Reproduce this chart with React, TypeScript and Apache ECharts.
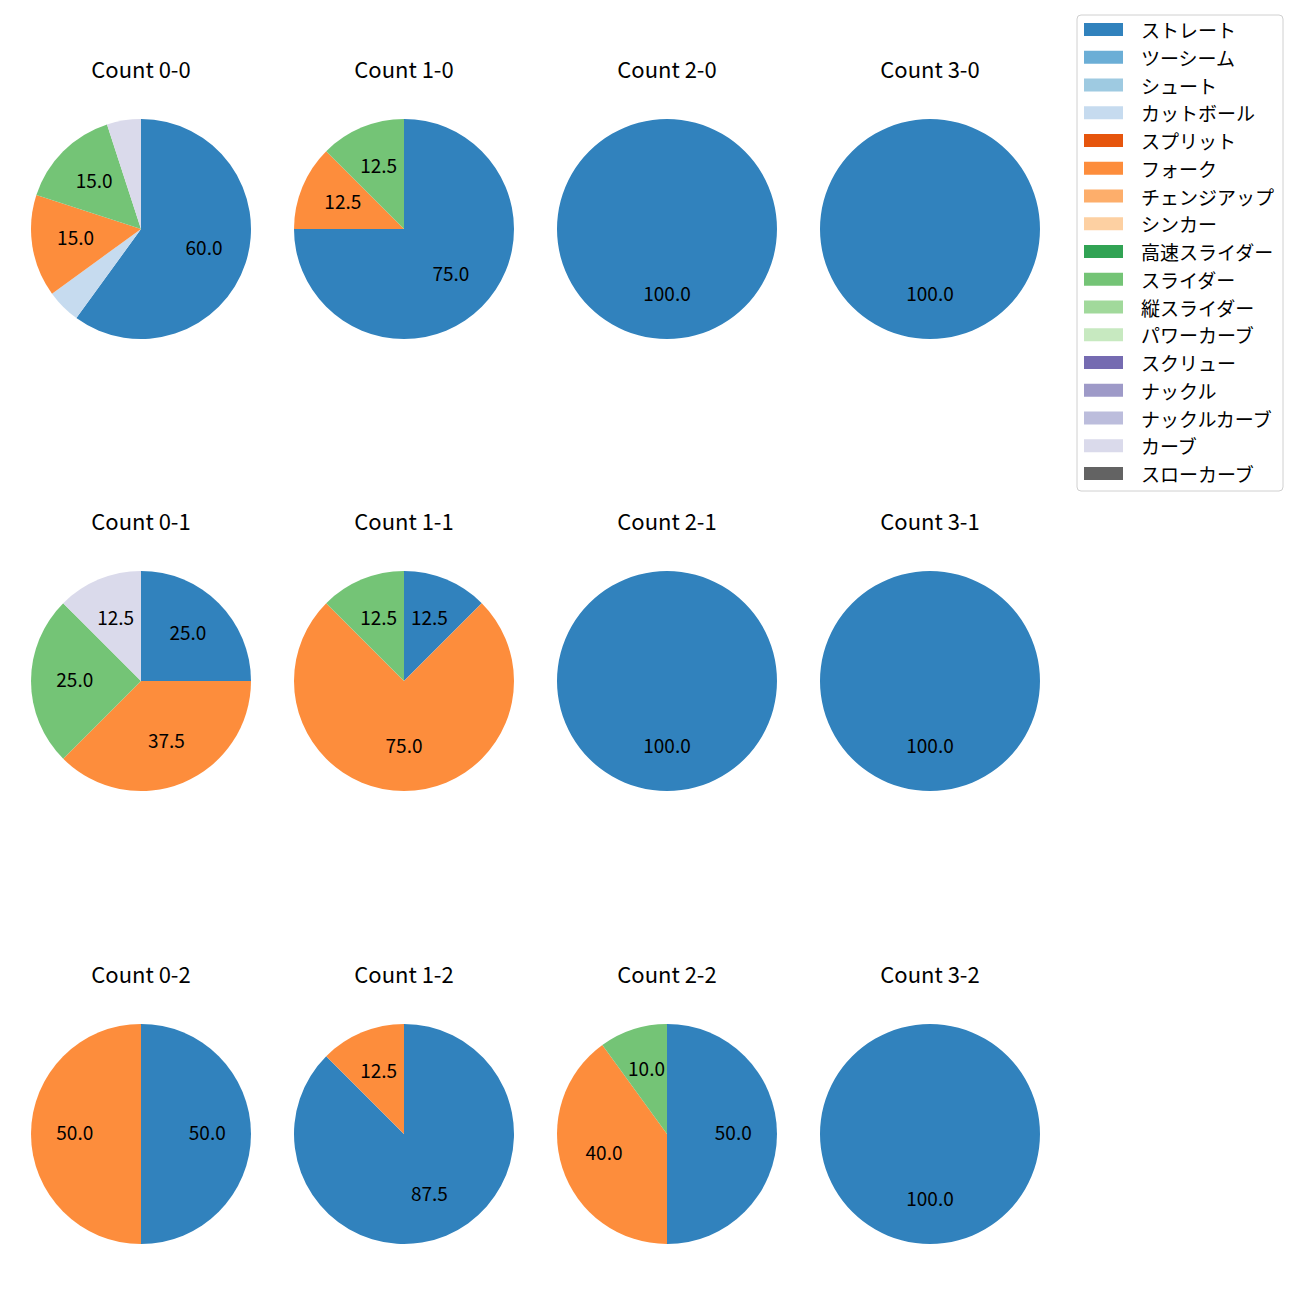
import React, { useEffect, useRef } from "react";
import * as echarts from "echarts";

const pitchTypes = [
  "ストレート", "ツーシーム", "シュート", "カットボール", "スプリット", "フォーク",
  "チェンジアップ", "シンカー", "高速スライダー", "スライダー", "縦スライダー",
  "パワーカーブ", "スクリュー", "ナックル", "ナックルカーブ", "カーブ", "スローカーブ",
];
const pitchColors = [
  "#3182bd", "#6baed6", "#9ecae1", "#c6dbef", "#e6550d", "#fd8d3c", "#fdae6b", "#fdd0a2",
  "#31a354", "#74c476", "#a1d99b", "#c7e9c0", "#756bb1", "#9e9ac8", "#bcbddc", "#dadaeb", "#636363",
];

// counts in order: row by strikes (0,1,2), columns by balls (0..3)
const countLabels = [
  "Count 0-0", "Count 1-0", "Count 2-0", "Count 3-0",
  "Count 0-1", "Count 1-1", "Count 2-1", "Count 3-1",
  "Count 0-2", "Count 1-2", "Count 2-2", "Count 3-2",
];
const straightPct = [60, 75, 100, 100, 25, 12.5, 100, 100, 50, 87.5, 50, 100];
const cutterPct = [5, 0, 0, 0, 0, 0, 0, 0, 0, 0, 0, 0];
const forkPct = [15, 12.5, 0, 0, 37.5, 75, 0, 0, 50, 12.5, 40, 0];
const sliderPct = [15, 12.5, 0, 0, 25, 12.5, 0, 0, 0, 0, 10, 0];
const curvePct = [5, 0, 0, 0, 12.5, 0, 0, 0, 0, 0, 0, 0];

const colCenters = [141, 404, 667, 930];
const rowCenters = [229, 681, 1134];
const RADIUS = 110;
const FONT = "'Noto Sans CJK JP', 'Noto Sans', sans-serif";

function valuesFor(i: number): number[] {
  const byType: Record<string, number> = {
    "ストレート": straightPct[i],
    "カットボール": cutterPct[i],
    "フォーク": forkPct[i],
    "スライダー": sliderPct[i],
    "カーブ": curvePct[i],
  };
  return pitchTypes.map((p) => byType[p] ?? 0);
}

export default function App() {
  const ref = useRef<HTMLDivElement>(null);
  useEffect(() => {
    document.body.style.margin = "0";
    const chart = echarts.init(ref.current!, null, { renderer: "svg" });
    const series: any[] = [];
    const graphics: any[] = [];
    countLabels.forEach((label, i) => {
      const cx = colCenters[i % 4];
      const cy = rowCenters[Math.floor(i / 4)];
      const vals = valuesFor(i);
      series.push({
        type: "pie",
        center: [cx, cy],
        radius: [0, RADIUS],
        startAngle: 90,
        clockwise: true,
        silent: true,
        label: { show: false },
        labelLine: { show: false },
        emphasis: { disabled: true },
        itemStyle: { borderWidth: 0 },
        data: pitchTypes.map((p, k) => ({
          name: p,
          value: vals[k],
          itemStyle: { color: pitchColors[k] },
        })),
      });
      // label layer: a larger transparent pie so inside labels sit at ~0.6R like matplotlib
      series.push({
        type: "pie",
        center: [cx, cy - 3],
        radius: [0, RADIUS * 1.15],
        startAngle: 90,
        clockwise: true,
        silent: true,
        z: 3,
        emphasis: { disabled: true },
        itemStyle: { color: "transparent", borderWidth: 0 },
        labelLine: { show: false },
        label: {
          show: true,
          position: "inside",
          color: "#000",
          fontSize: 19,
          fontFamily: FONT,
          formatter: (p: any) => (p.value >= 10 ? p.percent.toFixed(1) : ""),
        },
        data: pitchTypes.map((p, k) => ({ name: "_" + p, value: vals[k] })),
      });
      graphics.push({
        type: "text",
        x: cx,
        y: cy - 161,
        style: {
          text: label,
          fill: "#000",
          fontSize: 22,
          fontFamily: FONT,
          textAlign: "center",
          textVerticalAlign: "middle",
        },
      });
    });
    chart.setOption({
      animation: false,
      backgroundColor: "#fff",
      legend: {
        orient: "vertical",
        left: 1077,
        top: 15,
        data: pitchTypes,
        itemWidth: 39,
        itemHeight: 13,
        itemGap: 8.75,
        padding: [5, 9, 8, 7],
        backgroundColor: "#fff",
        borderColor: "#d0d0d0",
        borderWidth: 1,
        borderRadius: 4,
        icon: "rect",
        selectedMode: false,
        textStyle: {
          fontSize: 19,
          color: "#000",
          fontFamily: FONT,
          padding: [0, 0, 0, 13],
        },
      },
      graphic: graphics,
      series,
    });
    return () => chart.dispose();
  }, []);
  return <div ref={ref} style={{ width: 1300, height: 1300 }} />;
}
